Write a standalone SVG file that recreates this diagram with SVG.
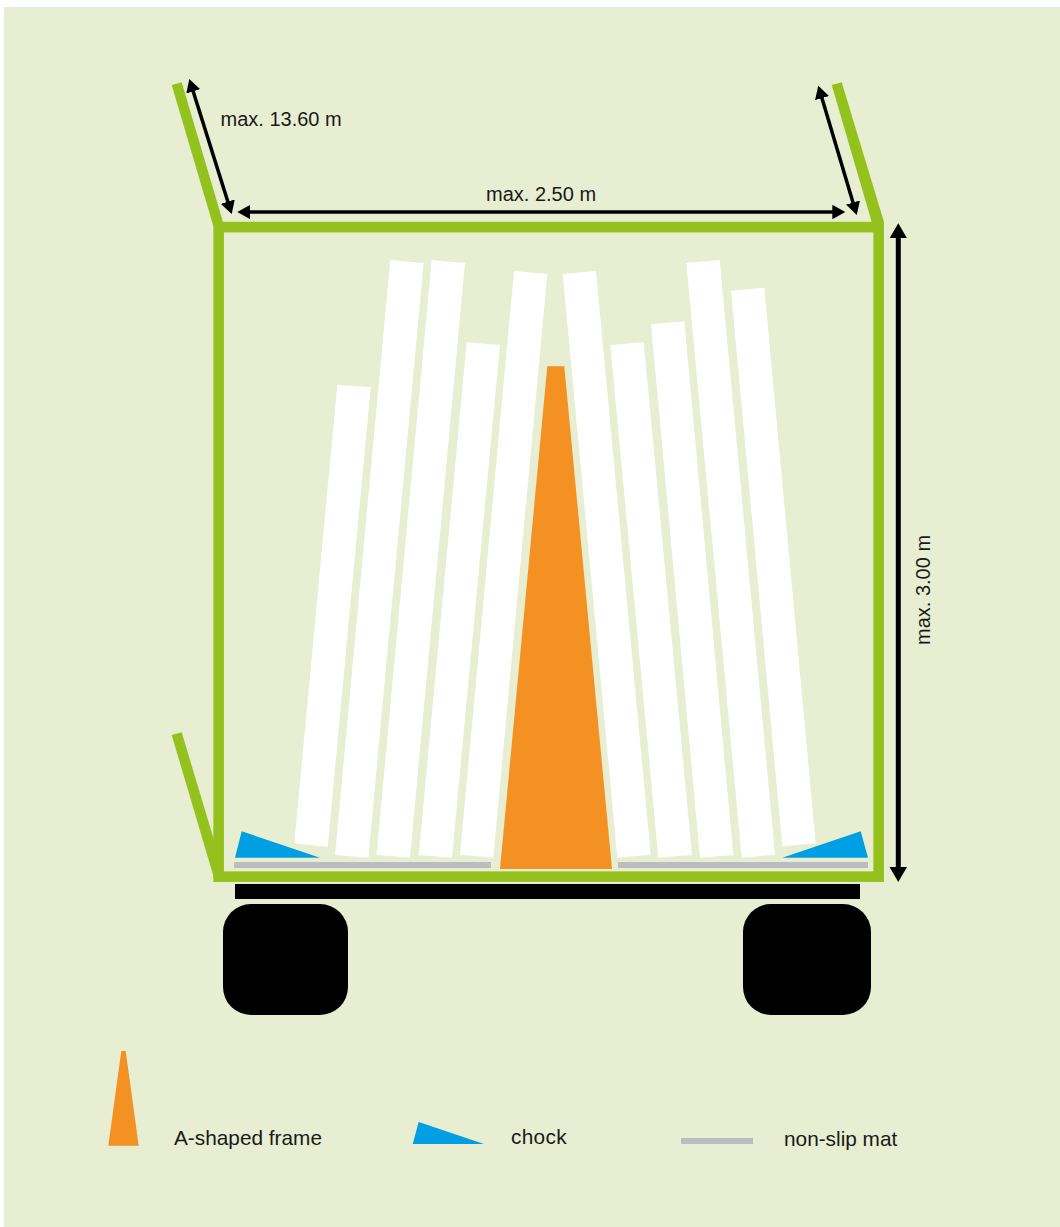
<svg xmlns="http://www.w3.org/2000/svg" width="1060" height="1227" viewBox="0 0 1060 1227">
<style>
.panel{fill:#fff}
.green{fill:#95c11f}
.orange{fill:#f39222}
.blue{fill:#009fe3}
.mat{fill:#bcbdc1}
.black{fill:#000}
.dim{stroke:#000;fill:none}
text{font-family:"Liberation Sans",Arial,sans-serif;fill:#1a1a18}
.m{font-size:20px}
.l{font-size:20.8px}
</style>
<defs>
<marker id="ah" markerUnits="userSpaceOnUse" markerWidth="14" markerHeight="15" refX="1" refY="7.25" orient="auto-start-reverse"><path d="M0 0L13 7.25L0 14.5Z" fill="#000"/></marker>
<marker id="ahv" markerUnits="userSpaceOnUse" markerWidth="16" markerHeight="18" refX="1" refY="8.75" orient="auto-start-reverse"><path d="M0 0L15 8.75L0 17.5Z" fill="#000"/></marker>
</defs>
<rect width="1060" height="1227" fill="#fff"/>
<rect x="4" y="7" width="1056" height="1220" fill="#e7eed1"/>
<g id="wheels">
<rect class="black" x="223" y="904" width="125" height="111" rx="28"/>
<rect class="black" x="743" y="904" width="128" height="111" rx="28"/>
<rect class="black" x="235" y="884" width="625" height="15"/>
</g>
<g id="panels">
<polygon class="panel" points="337.3,384.7 370.7,387.3 327.7,847 294.3,843.3"/>
<polygon class="panel" points="390.3,260 423.7,263 368.3,857.7 335,855"/>
<polygon class="panel" points="431.7,260 465,263 410,857.7 376.5,855"/>
<polygon class="panel" points="466.7,342.3 500,345 452,857.7 418.7,855"/>
<polygon class="panel" points="514,271 547.3,274 493.3,857.7 460,854.7"/>
<polygon class="panel" points="562.7,274 596,271 650.7,854.7 617.3,857.7"/>
<polygon class="panel" points="610.3,345 643.7,342.3 692,855 658.3,857.7"/>
<polygon class="panel" points="651,324.3 684.3,321.3 733.3,855 700,857.7"/>
<polygon class="panel" points="686.3,263 719.7,260 775,854.7 741.7,857.7"/>
<polygon class="panel" points="731,290.7 764.3,287.7 815.7,843.3 782.3,846.3"/>
</g>
<g id="a-frame"><polygon class="orange" points="547.3,366.3 564.3,366.3 612,869 500,869"/></g>
<g id="chocks">
<polygon class="blue" points="241.7,831.3 320,857.7 235,857.7"/>
<polygon class="blue" points="860.7,831.3 868,857.7 782.3,857.7"/>
</g>
<g id="mats">
<rect class="mat" x="234" y="862" width="257" height="6"/>
<rect class="mat" x="618" y="862" width="250" height="6"/>
</g>
<g id="trailer">
<rect x="218.65" y="227.15" width="660" height="649.5" fill="none" stroke="#95c11f" stroke-width="10.6"/>
<polygon class="green" points="171.7,85 181.7,82.3 223,222 213.3,226"/>
<polygon class="green" points="831.7,85 841.7,82.3 884,222 871.7,222"/>
<polygon class="green" points="171.7,735 181.7,732.3 214,840 214,878"/>
</g>
<g id="connectors">
<line class="dim" stroke-width="3.5" x1="192.9" y1="90.4" x2="228.1" y2="202.6" marker-start="url(#ah)" marker-end="url(#ah)"/>
<line class="dim" stroke-width="3.5" x1="821.7" y1="97.2" x2="853.3" y2="203.5" marker-start="url(#ah)" marker-end="url(#ah)"/>
<line class="dim" stroke-width="3.5" x1="249.3" y1="212" x2="833.3" y2="212" marker-start="url(#ah)" marker-end="url(#ah)"/>
<line class="dim" stroke-width="5" x1="898.3" y1="237.3" x2="898.3" y2="868" marker-start="url(#ahv)" marker-end="url(#ahv)"/>
</g>
<g id="labels">
<text class="m" x="220.5" y="126">max. 13.60 m</text>
<text class="m" x="486" y="200.5">max. 2.50 m</text>
<text class="m" transform="translate(929.5,645) rotate(-90)">max. 3.00 m</text>
<text class="l" x="174" y="1145.3">A-shaped frame</text>
<text class="l" x="511" y="1144" letter-spacing="0.3">chock</text>
<text class="l" x="784" y="1146">non-slip mat</text>
</g>
<g id="legend">
<polygon class="orange" points="121.3,1051 125.7,1051 138.7,1145.7 108.3,1145.7"/>
<polygon class="blue" points="418.7,1122 484,1144 412.7,1144"/>
<rect class="mat" x="681" y="1138" width="72" height="6"/>
</g>
</svg>
